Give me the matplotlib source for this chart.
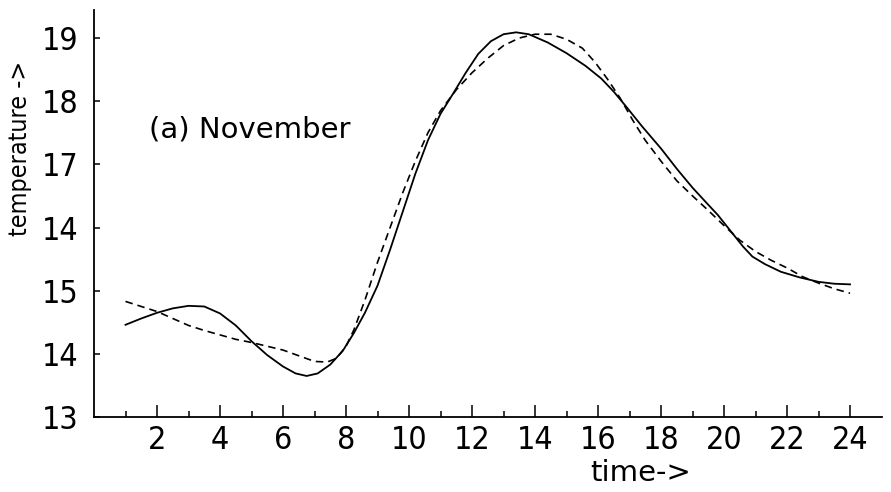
import matplotlib
matplotlib.use("Agg")
import matplotlib.pyplot as plt
from matplotlib import font_manager as fm

# hourly temperature, November: measured (solid) and model (dashed)
t_meas = [1.0, 1.5, 2.0, 2.5, 3.0, 3.5, 4.0, 4.5, 5.0, 5.5, 6.0, 6.4, 6.75, 7.1,
          7.5, 7.9, 8.25, 8.6, 9.0, 9.4, 9.8, 10.2, 10.6, 11.0, 11.4, 11.8, 12.2,
          12.6, 13.0, 13.4, 13.8, 14.4, 15.0, 15.6, 16.1, 16.5, 16.9, 17.4, 18.0,
          18.5, 19.0, 19.5, 19.8, 20.2, 20.6, 20.9, 21.3, 21.8, 22.4, 23.0, 23.5, 24.0]
temp_meas = [14.46, 14.56, 14.65, 14.72, 14.76, 14.75, 14.64, 14.45, 14.2, 13.98,
             13.8, 13.69, 13.65, 13.69, 13.83, 14.05, 14.33, 14.65, 15.08, 15.65,
             16.25, 16.85, 17.38, 17.8, 18.12, 18.45, 18.75, 18.95, 19.06, 19.09,
             19.06, 18.93, 18.76, 18.56, 18.36, 18.15, 17.91, 17.6, 17.25, 16.93,
             16.63, 16.36, 16.2, 15.95, 15.7, 15.54, 15.42, 15.3, 15.21, 15.14,
             15.11, 15.1]
t_model = [1.0, 1.5, 2.0, 2.5, 3.0, 3.5, 4.0, 4.5, 5.0, 5.5, 6.0, 6.5, 7.0, 7.4,
           7.7, 8.0, 8.25, 8.6, 9.0, 9.4, 9.8, 10.2, 10.6, 11.0, 11.5, 12.0, 12.5,
           13.0, 13.5, 14.0, 14.5, 15.0, 15.5, 15.9, 16.3, 16.7, 17.1, 17.5, 18.0,
           18.5, 19.0, 19.5, 20.0, 20.5, 21.0, 21.5, 22.0, 22.5, 23.0, 23.5, 24.0]
temp_model = [14.83, 14.75, 14.67, 14.56, 14.45, 14.37, 14.3, 14.23, 14.18, 14.12,
              14.06, 13.97, 13.88, 13.87, 13.93, 14.12, 14.38, 14.85, 15.45, 16.0,
              16.55, 17.05, 17.5, 17.85, 18.18, 18.45, 18.68, 18.88, 19.0, 19.06,
              19.06, 18.98, 18.84, 18.62, 18.35, 18.05, 17.7, 17.38, 17.05, 16.74,
              16.5, 16.27, 16.03, 15.8, 15.62, 15.48, 15.36, 15.22, 15.12, 15.03,
              14.96]

x_major = list(range(2, 25, 2))
x_minor = list(range(1, 25, 2))
x_labels = ["2", "4", "6", "8", "10", "12", "14", "16", "18", "20", "22", "24"]
y_ticks = [13, 14, 15, 16, 17, 18, 19]
y_labels = ["13", "14", "15", "14", "17", "18", "19"]


def pick_font():
    # thin, narrow face for the digits; first one found wins
    wants = [("Liberation Sans Narrow", "normal", "normal"),
             ("DejaVu Sans", "condensed", "light"),
             ("DejaVu Sans", "condensed", "normal"),
             ("Roboto Condensed", "normal", "light"),
             ("Roboto", "normal", "light"),
             ("Open Sans", "condensed", "light"),
             ("Open Sans", "normal", "light")]
    for name, stretch, weight in wants:
        prop = fm.FontProperties(family=name, stretch=stretch, weight=weight)
        try:
            path = fm.findfont(prop, fallback_to_default=False)
        except ValueError:
            continue
        if name.split()[0] in fm.get_font(path).family_name:
            return path
    return fm.findfont("DejaVu Sans")


NARROW = pick_font()


def fp(size):
    return fm.FontProperties(fname=NARROW, size=size)


fig = plt.figure(figsize=(8.91, 4.92), dpi=100)
ax = fig.add_axes([0.1055, 0.1524, 0.8839, 0.8281])

ax.plot(t_meas, temp_meas, color="k", lw=1.3, solid_joinstyle="round")
ax.plot(t_model, temp_model, color="k", lw=1.2, linestyle=(0, (4.5, 3)))

ax.set_xlim(0, 25)
ax.set_ylim(13, 19.45)
for s in ("top", "right"):
    ax.spines[s].set_visible(False)
for s in ("left", "bottom"):
    ax.spines[s].set_linewidth(1.3)

ax.set_xticks(x_major)
ax.set_xticklabels(x_labels, fontproperties=fp(23))
ax.set_xticks(x_minor, minor=True)
ax.tick_params(axis="x", which="major", direction="in", length=9, width=1.1, pad=6)
ax.tick_params(axis="x", which="minor", direction="in", length=4.5, width=1.1)
ax.set_yticks(y_ticks)
ax.set_yticklabels(y_labels, fontproperties=fp(23))
ax.tick_params(axis="y", direction="in", length=4, width=1.1, pad=11)

ax.text(1.75, 17.55, "(a) November", fontsize=21, family="DejaVu Sans",
        ha="left", va="center")
fig.text(641 / 891, 1 - 473 / 492, "time->", fontsize=21, family="DejaVu Sans",
         ha="center", va="center")
fig.text(20 / 891, 1 - 148 / 492, "temperature ->", fontproperties=fp(18),
         rotation=90, ha="center", va="center")

fig.savefig("out.png", dpi=100)
